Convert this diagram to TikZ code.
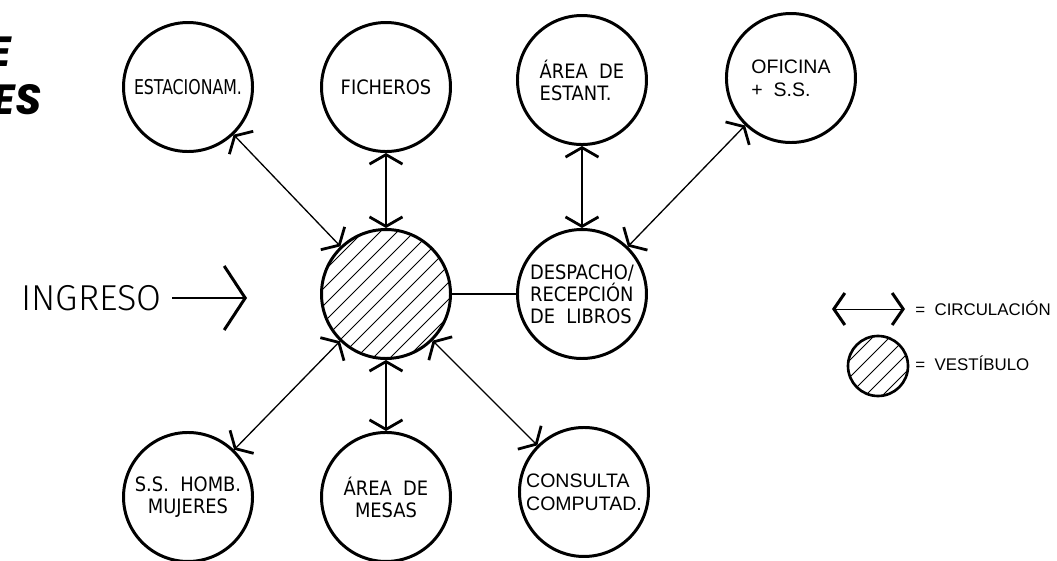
\documentclass[tikz,border=0pt]{standalone}
\usepackage{fontspec}
\newfontfamily\roomfont{DejaVu Sans Condensed}
\newfontfamily\armfont{Liberation Sans}
\newfontfamily\ingfont{Fira Sans Light}
\newfontfamily\titlefont{Poppins}
\usetikzlibrary{arrows.meta, positioning, calc}

\begin{document}
\begin{tikzpicture}[
    room/.style={draw, circle, line width=1.7pt, minimum size=2.58cm,
                 inner sep=0pt, align=left,
                 font=\roomfont\fontsize{11.3}{12.5}\selectfont},
    armroom/.style={room, font=\armfont\fontsize{11.1}{13}\selectfont},
    hatch/.style={path picture={
        \foreach \k in {-6,...,6}
          \draw[line width=0.5pt]
            ($(path picture bounding box.center)+(\k*0.34-3,-3)$) -- ++(6,6);
      }},
    circ/.style={<->, line width=0.75pt},
    legtext/.style={inner sep=0pt, font=\armfont\fontsize{9.6}{11}\selectfont},
    >={Straight Barb[length=1.9mm, width=6.6mm, line width=0pt 2.1]}
  ]

  \useasboundingbox (-7.72,-5.32) rectangle (13.42,5.88);

  % Title (cut off at the left edge)
  \node[inner sep=0pt, anchor=base east,
        font=\titlefont\bfseries\itshape\fontsize{24}{24}\selectfont]
    (title1) at (-7.48,4.54) {E};
  \node[inner sep=0pt, anchor=base east,
        font=\titlefont\bfseries\itshape\fontsize{24}{24}\selectfont]
    (title2) at (-6.88,3.58) {ES};

  % Vestibule and spaces
  \node[room, hatch] (vest) at (0,0) {};
  \node[room, right=1.28cm of vest] (desp) {DESPACHO/\\RECEPCIÓN\\DE~~LIBROS};
  \node[room, above=1.50cm of vest] (fich) {FICHEROS};
  \node[room, left=1.32cm of fich,
        font=\roomfont\addfontfeatures{FakeStretch=0.86}\fontsize{11.6}{12.5}\selectfont]
    (est) {ESTACIONAM.};
  \node[room, above=1.64cm of desp] (estant) {ÁREA~~DE\\ESTANT.};
  \node[armroom, right=1.54cm of estant, yshift=0.04cm] (ofi) {OFICINA\\+~~S.S.};
  \node[room, align=center, below=1.42cm of vest] (mesas) {ÁREA~~DE\\MESAS};
  \node[room, align=center, left=1.32cm of mesas] (ssh) {S.S.~~HOMB.\\MUJERES};
  \node[armroom, right=1.32cm of mesas, yshift=0.1cm] (cons) {CONSULTA\\COMPUTAD.};

  % Circulation
  \draw[circ] (vest) -- (est);
  \draw[circ] (vest) -- (fich);
  \draw[circ] (vest) -- (ssh);
  \draw[circ] (vest) -- (mesas);
  \draw[circ] (vest) -- (cons);
  \draw[circ] (desp) -- (estant);
  \draw[circ] (desp) -- (ofi);
  \draw[line width=0.75pt] (vest) -- (desp);

  % Entrance
  \coordinate[left=1.46cm of vest.west, yshift=-0.08cm] (ingtip);
  \node[inner sep=0pt, font=\ingfont\fontsize{20.5}{22}\selectfont,
        left=1.7cm of ingtip] (ingreso) {INGRESO};
  \draw[line width=1pt,
        -{Straight Barb[length=4.2mm, width=12.8mm, line width=0pt 1.7]}]
    ([xshift=0.2cm]ingreso.east) -- (ingtip);

  % Legend
  \node[room, hatch, minimum size=1.2cm, line width=1.5pt] (legvest) at (9.84,-1.44) {};
  \node[legtext, anchor=base west] (vesttxt) at (10.58,-1.52) {=~~VESTÍBULO};
  \node[legtext, anchor=base west] (circtxt) at (10.58,-0.42) {=~~CIRCULACIÓN};
  \coordinate (circR) at (10.38,-0.30);
  \coordinate[left=1.46cm of circR] (circL);
  \draw[line width=0.57pt,
        {Straight Barb[length=2.2mm, width=6.4mm, line width=0pt 3]}-{Straight Barb[length=2.2mm, width=6.4mm, line width=0pt 3]}]
    (circL) -- (circR);

\end{tikzpicture}
\end{document}
